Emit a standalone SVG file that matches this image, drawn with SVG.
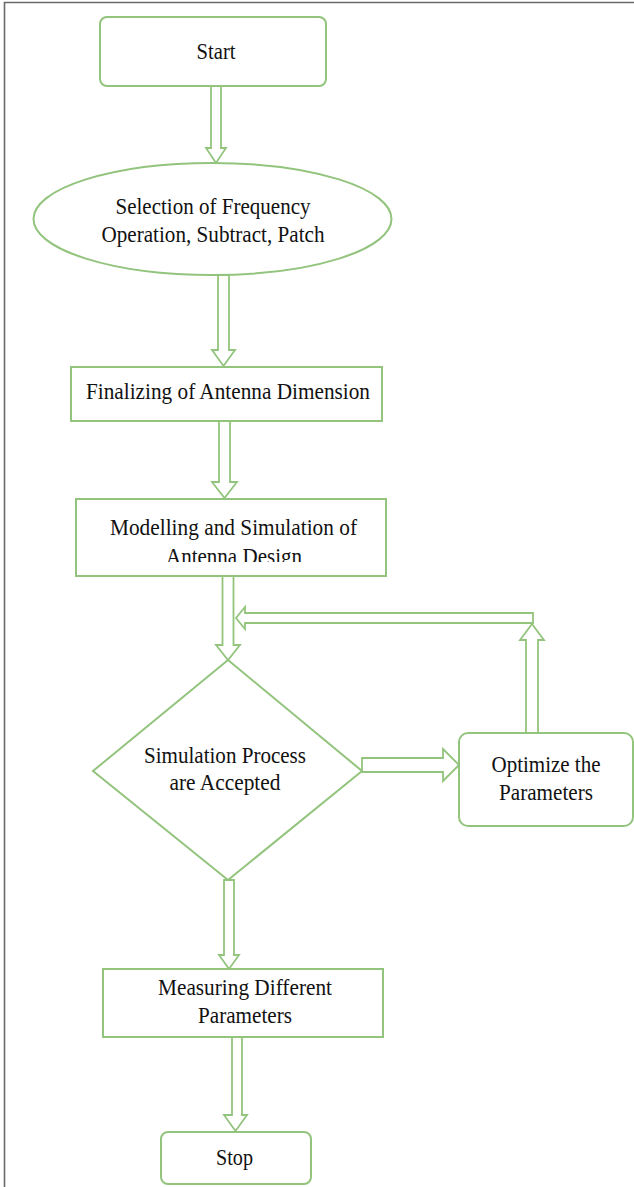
<svg xmlns="http://www.w3.org/2000/svg" width="634" height="1187" viewBox="0 0 634 1187">
  <defs>
    <style>
      .shape { fill: #ffffff; stroke: #93c47d; stroke-width: 2; }
      .arrow { fill: #ffffff; stroke: #93c47d; stroke-width: 1.8; stroke-linejoin: miter; }
      .label { font-family: "Liberation Serif", "Times New Roman", serif; font-size: 23px; fill: #111111; text-anchor: middle; }
    </style>
    <clipPath id="clipModel">
      <rect x="76" y="499" width="310" height="63"/>
    </clipPath>
  </defs>
  <rect x="0" y="0" width="634" height="1187" fill="#ffffff"/>
  <path d="M4.5,1187 V2.5 H634" fill="none" stroke="#6a6a6a" stroke-width="1.6"/>

  <g id="connectors">
    <polygon class="arrow" points="211,86 221,86 221,148 226,148 216,163 206,148 211,148"/>
    <polygon class="arrow" points="218,275 229,275 229,350 235,350 223.5,366 212,350 218,350"/>
    <polygon class="arrow" points="219,421 230,421 230,482 237,482 224.5,498 212,482 219,482"/>
    <polygon class="arrow" points="222.5,576 233.5,576 233.5,645 240,645 228,660 216,645 222.5,645"/>
    <polygon class="arrow" points="526,733 538,733 538,640 544,640 532,624 520,640 526,640"/>
    <polygon class="arrow" points="533,613 533,623 245,623 245,629 236,618 245,607 245,613"/>
    <polygon class="arrow" points="362,758 443,758 443,749 459,765 443,781 443,772 362,772"/>
    <polygon class="arrow" points="224,880 234,880 234,955 239,955 229,969 219,955 224,955"/>
    <polygon class="arrow" points="232,1037 242,1037 242,1115 247,1115 235.5,1131 224,1115 232,1115"/>
  </g>

  <g id="start">
    <rect class="shape" x="100" y="17" width="226" height="69" rx="7"/>
    <text class="label" x="216" y="59" textLength="39" lengthAdjust="spacingAndGlyphs">Start</text>
  </g>

  <g id="selection">
    <ellipse class="shape" cx="212.5" cy="219" rx="179" ry="56"/>
    <text class="label" x="213" y="214" textLength="195" lengthAdjust="spacingAndGlyphs">Selection of Frequency</text>
    <text class="label" x="213" y="242" textLength="223" lengthAdjust="spacingAndGlyphs">Operation, Subtract, Patch</text>
  </g>

  <g id="finalizing">
    <rect class="shape" x="71" y="367" width="311" height="54"/>
    <text class="label" x="228" y="399" textLength="284" lengthAdjust="spacingAndGlyphs">Finalizing of Antenna Dimension</text>
  </g>

  <g id="modelling">
    <rect class="shape" x="76" y="499" width="310" height="77"/>
    <text class="label" x="233.5" y="535" textLength="247" lengthAdjust="spacingAndGlyphs">Modelling and Simulation of</text>
    <text class="label" x="234" y="564" textLength="136" lengthAdjust="spacingAndGlyphs" clip-path="url(#clipModel)">Antenna Design</text>
  </g>

  <g id="decision">
    <polygon class="shape" points="228,660 362,771 228,880 93,771"/>
    <text class="label" x="225" y="763" textLength="162" lengthAdjust="spacingAndGlyphs">Simulation Process</text>
    <text class="label" x="225" y="790" textLength="111" lengthAdjust="spacingAndGlyphs">are Accepted</text>
  </g>

  <g id="optimize">
    <rect class="shape" x="459" y="733" width="174" height="93" rx="9"/>
    <text class="label" x="546" y="772" textLength="109" lengthAdjust="spacingAndGlyphs">Optimize the</text>
    <text class="label" x="546" y="800" textLength="94" lengthAdjust="spacingAndGlyphs">Parameters</text>
  </g>

  <g id="measuring">
    <rect class="shape" x="103" y="969" width="280" height="68"/>
    <text class="label" x="245" y="995" textLength="174" lengthAdjust="spacingAndGlyphs">Measuring Different</text>
    <text class="label" x="245" y="1023" textLength="94" lengthAdjust="spacingAndGlyphs">Parameters</text>
  </g>

  <g id="stop">
    <rect class="shape" x="161" y="1132" width="150" height="52" rx="7"/>
    <text class="label" x="234.5" y="1165" textLength="37" lengthAdjust="spacingAndGlyphs">Stop</text>
  </g>
</svg>
